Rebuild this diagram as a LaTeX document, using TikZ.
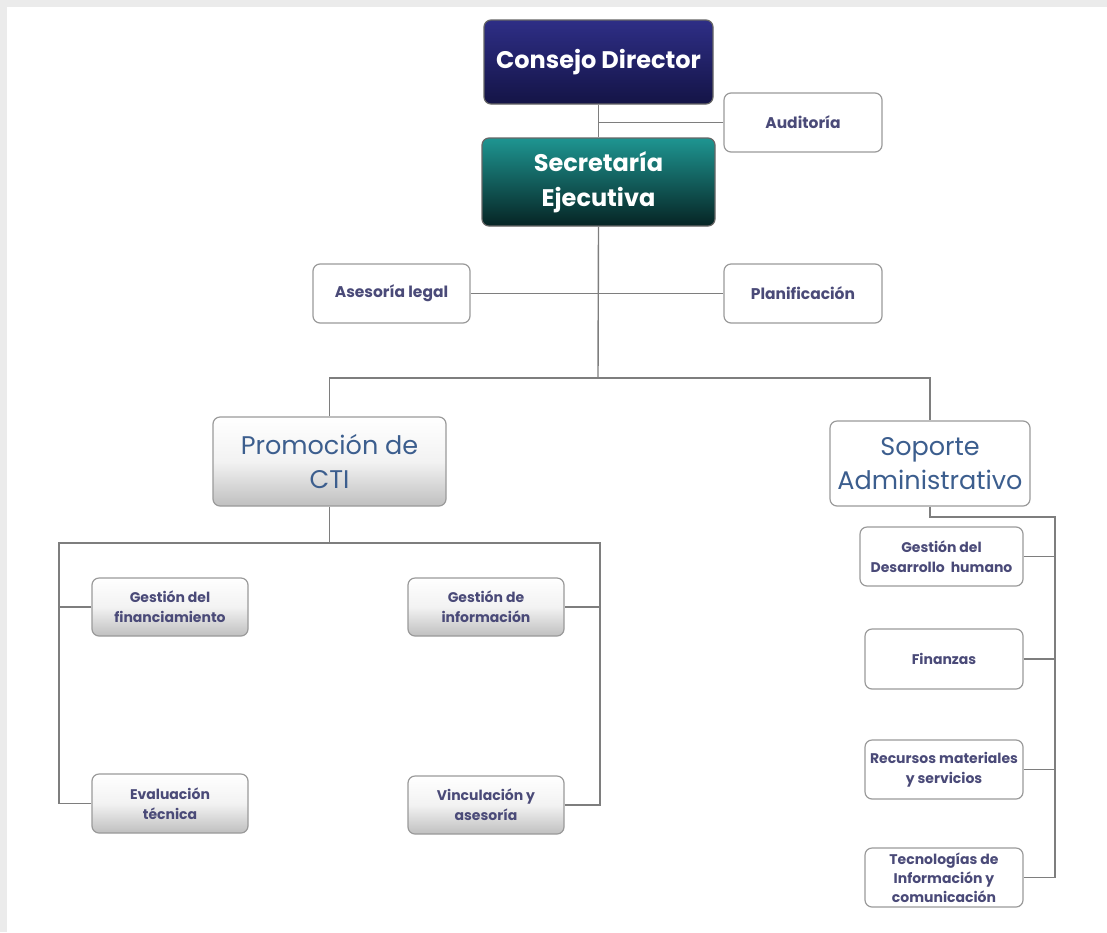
\documentclass[tikz,border=0pt]{standalone}
\usepackage{fontspec}
\setmainfont{Poppins}
\usetikzlibrary{positioning}

\definecolor{navytop}{HTML}{2E2E86}
\definecolor{navybot}{HTML}{141446}
\definecolor{tealtop}{HTML}{1E9591}
\definecolor{tealbot}{HTML}{062424}
\definecolor{linegray}{HTML}{7E7E7E}
\definecolor{boxgray}{HTML}{9A9A9A}
\definecolor{txtdark}{HTML}{4A4A78}
\definecolor{txtblue}{HTML}{3C5E8E}

\tikzset{
  box/.style={draw=boxgray, line width=1.2pt, rounded corners=7pt, align=center,
    inner sep=2pt},
  topbox/.style={box, draw=black!60, text=white, font=\fontsize{24}{35}\selectfont\bfseries},
  headbox/.style={box, text=txtblue, font=\fontsize{25.5}{34}\selectfont},
  smallbox/.style={box, text=txtdark, font=\fontsize{14}{20}\selectfont\bfseries},
  sidebox/.style={smallbox, fill=white, font=\fontsize{15.5}{20}\selectfont\bfseries},
  graybox/.style={top color=white, bottom color=black!25, middle color=black!5},
  link/.style={draw=linegray, line width=1.4pt}
}

\begin{document}
\begin{tikzpicture}[x=1pt,y=-1pt]
  \useasboundingbox (0,0) rectangle (1107,932);
  \fill[black!8] (0,0) rectangle (1107,7);
  \fill[black!8] (0,7) rectangle (7,932);

  % direccion
  \node[topbox, top color=navytop, bottom color=navybot, minimum width=229pt, minimum height=84pt] (cd) at (598.5,62) {Consejo Director};
  \node[sidebox, minimum width=158pt, minimum height=59pt] (aud) at (803,122.5) {Auditoría};
  \node[topbox, top color=tealtop, bottom color=tealbot, minimum width=233pt, minimum height=88pt] (se) at (598.5,182) {Secretaría\\Ejecutiva};
  \node[sidebox, minimum width=157pt, minimum height=59pt] (al) at (391.5,293.5) {Asesoría legal};
  \node[sidebox, minimum width=158pt, minimum height=59pt] (pl) at (803,293.5) {Planificación};

  % areas
  \node[headbox, graybox, minimum width=233pt, minimum height=89pt] (pc) at (329.5,461.5) {Promoción de\\CTI};
  \node[headbox, fill=white, minimum width=200pt, minimum height=85pt, inner sep=0pt] (sa) at (930,463.5) {Soporte\\Administrativo};

  \node[smallbox, graybox, minimum width=156pt, minimum height=58pt] (gf) at (170,607) {Gestión del\\financiamiento};
  \node[smallbox, graybox, minimum width=156pt, minimum height=58pt] (gi) at (486,607) {Gestión de\\información};
  \node[smallbox, graybox, minimum width=156pt, minimum height=59pt] (et) at (170,803.5) {Evaluación\\técnica};
  \node[smallbox, graybox, minimum width=156pt, minimum height=58pt] (vi) at (486,805) {Vinculación y\\asesoría};

  \node[smallbox, fill=white, minimum width=163pt, minimum height=59pt] (gd) at (941.5,556.5) {Gestión del\\Desarrollo\ \ humano};
  \node[smallbox, fill=white, minimum width=158pt, minimum height=60pt] (fi) at (944,659) {Finanzas};
  \node[smallbox, fill=white, minimum width=158pt, minimum height=59pt] (rm) at (944,769.5) {Recursos materiales\\y servicios};
  \node[smallbox, fill=white, minimum width=158pt, minimum height=59pt, inner sep=0pt, font=\fontsize{14}{19}\selectfont\bfseries] (ti) at (944,877.5) {Tecnologías de\\Información y\\comunicación};

  \coordinate (hub) at (598,378);
  \coordinate (lbus) at (59,543);
  \coordinate (rbus) at (600,543);
  \coordinate (sbus) at (1055,517);

  \draw[link] (cd) -- (se);
  \draw[link] (aud.west) -| (cd.south);
  \draw[link] (se.south) -- (hub);
  \draw[link] (al.east) -- (pl.west);
  \draw[link] (pc.north) |- (hub) -| (sa.north);

  \draw[link] (pc.south) -- (pc.south |- lbus);
  \draw[link] (gf.west) -| (lbus) -- (rbus) |- (gi.east);
  \draw[link] (et.west) -| (lbus);
  \draw[link] (vi.east) -| (rbus);

  \draw[link] (sa.south) |- (sbus) |- (ti.east);
  \draw[link] (gd.east) -| (sbus);
  \draw[link] (fi.east) -| (sbus);
  \draw[link] (rm.east) -| (sbus);
\end{tikzpicture}
\end{document}
